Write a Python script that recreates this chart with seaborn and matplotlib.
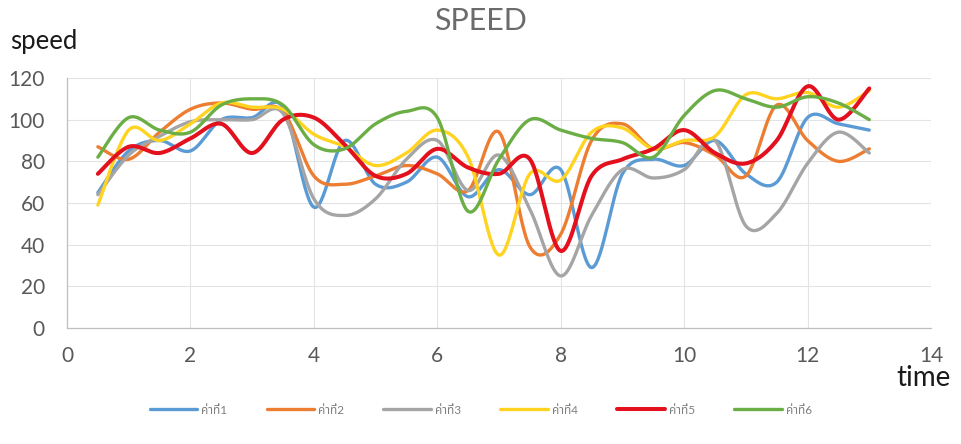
import numpy as np
import pandas as pd
import matplotlib
matplotlib.use("Agg")
import matplotlib.pyplot as plt
import seaborn as sns

t_values = [0.5, 1, 1.5, 2, 2.5, 3, 3.5, 4, 4.5, 5, 5.5, 6, 6.5, 7,
            7.5, 8, 8.5, 9, 9.5, 10, 10.5, 11, 11.5, 12, 12.5, 13]
s1 = [65, 85, 90, 85, 100, 101, 106, 58, 90, 69, 70, 82, 63, 76,
      64, 76, 29, 74, 81, 78, 90, 74, 70, 101, 98, 95]
s2 = [87, 81, 94, 105, 108, 105, 104, 73, 69, 73, 78, 74, 66, 94,
      39, 45, 90, 98, 86, 89, 83, 73, 107, 90, 80, 86]
s3 = [64, 83, 92, 99, 100, 100, 103, 62, 54, 62, 81, 90, 66, 83,
      57, 25, 54, 76, 72, 76, 90, 49, 55, 79, 94, 84]
s4 = [59, 95, 90, 98, 108, 106, 105, 93, 87, 78, 84, 95, 82, 35,
      74, 71, 94, 96, 86, 90, 92, 112, 110, 113, 106, 114]
s5 = [74, 87, 84, 91, 98, 84, 100, 101, 88, 73, 74, 86, 77, 74,
      81, 37, 73, 81, 86, 95, 84, 79, 90, 116, 100, 115]
s6 = [82, 101, 95, 94, 107, 110, 107, 88, 86, 98, 104, 101, 56, 81,
      100, 95, 91, 89, 82, 102, 114, 110, 106, 111, 108, 100]
series_names = ["ค่าที่1", "ค่าที่2", "ค่าที่3", "ค่าที่4", "ค่าที่5", "ค่าที่6"]
series_values = [s1, s2, s3, s4, s5, s6]
colors = ["#5B9BD5", "#ED7D31", "#A5A5A5", "#FFD320", "#E3101E", "#6AAE45"]
widths = [2.4, 2.4, 2.4, 2.4, 2.9, 2.4]
x_ticks = [0, 2, 4, 6, 8, 10, 12, 14]
y_ticks = [0, 20, 40, 60, 80, 100, 120]


def smooth(x, y, n=30):
    # Excel-style smoothed line: cubic Bezier segments through the points
    x = np.asarray(x, float)
    y = np.asarray(y, float)
    P = np.column_stack([x, y])
    Pp = np.vstack([P[0], P, P[-1]])
    out = []
    s = np.linspace(0, 1, n, endpoint=False)[:, None]
    for i in range(len(P) - 1):
        p0, p1, p2, p3 = Pp[i], Pp[i + 1], Pp[i + 2], Pp[i + 3]
        c1 = p1 + (p2 - p0) / 6
        c2 = p2 - (p3 - p1) / 6
        seg = ((1 - s) ** 3) * p1 + 3 * ((1 - s) ** 2) * s * c1 + 3 * (1 - s) * s ** 2 * c2 + s ** 3 * p2
        out.append(seg)
    out.append(P[-1][None, :])
    out = np.vstack(out)
    return out[:, 0], out[:, 1]


sns.set_theme(style="white")
plt.rcParams["font.family"] = ["Lato", "Noto Sans Thai", "Noto Sans", "DejaVu Sans"]

fig = plt.figure(figsize=(9.62, 4.44), dpi=100)
ax = fig.add_axes([67 / 962, 1 - 328 / 444, (931 - 67) / 962, (328 - 78) / 444])

frames = []
for name, vals in zip(series_names, series_values):
    xs, ys = smooth(t_values, vals)
    frames.append(pd.DataFrame({"time": xs, "speed": ys, "series": name,
                                "order": np.arange(len(xs))}))
df = pd.concat(frames, ignore_index=True)

handles = []
for name, col, lw in zip(series_names, colors, widths):
    sub = df[df["series"] == name]
    sns.lineplot(data=sub, x="time", y="speed", ax=ax, color=col, lw=lw,
                 sort=False, estimator=None, label=name, legend=False)
    handles.append(ax.lines[-1])

ax.set_xlim(0, 14)
ax.set_ylim(0, 120)
ax.set_xticks(x_ticks)
ax.set_yticks(y_ticks)
ax.grid(True, color="#E3E3E3", lw=0.8)
for side in ["top", "right"]:
    ax.spines[side].set_visible(False)
for side in ["left", "bottom"]:
    ax.spines[side].set_color("#BFBFBF")
    ax.spines[side].set_linewidth(0.9)
ax.tick_params(axis="x", length=0, labelsize=15, labelcolor="#595959", pad=13)
ax.tick_params(axis="y", length=0, labelsize=15, labelcolor="#595959", pad=16)
ax.set_xlabel("")
ax.set_ylabel("")

fig.text(0.5, 1 - 21 / 444, "SPEED", ha="center", va="center", fontsize=22, color="#6B6B6B")
fig.text(10 / 962, 1 - 42 / 444, "speed", ha="left", va="center", fontsize=18.5, color="#1a1a1a")
fig.text(951 / 962, 1 - 378 / 444, "time", ha="right", va="center", fontsize=20, color="#1a1a1a")

fig.legend(handles, series_names, loc="center", bbox_to_anchor=(0.5, 1 - 410 / 444),
           ncol=6, frameon=False, handlelength=4.0, columnspacing=3.3,
           fontsize=8.5, labelcolor="#7F7F7F", handletextpad=0.4)

fig.savefig("out.png", dpi=100)
